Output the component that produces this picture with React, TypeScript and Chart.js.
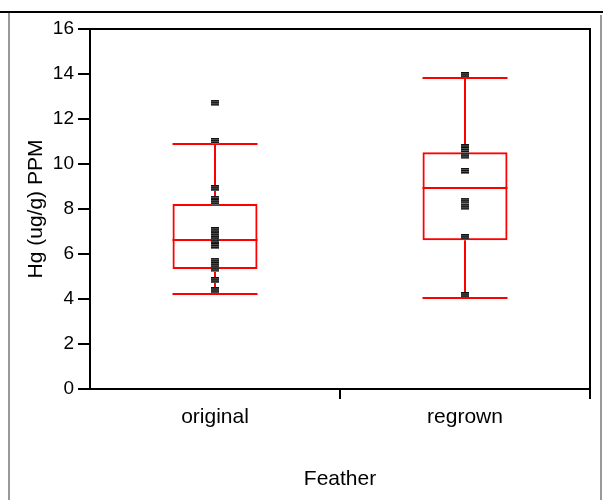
import React, { useEffect, useRef } from 'react';
import { Chart, registerables } from 'chart.js';

Chart.register(...registerables);

const categories = ['original', 'regrown'];
const q1Values = [5.33, 6.61];
const medianValues = [6.62, 8.92];
const q3Values = [8.22, 10.52];
const lowerWhiskers = [4.22, 4.04];
const upperWhiskers = [10.89, 13.8];
const originalPoints = [12.72, 11.02, 8.92, 8.45, 8.3, 7.05, 6.85, 6.65, 6.5, 6.35, 5.7, 5.5, 5.35, 4.83, 4.38];
const regrownPoints = [13.94, 10.74, 10.62, 10.37, 9.69, 8.37, 8.1, 6.74, 4.16];
const yTickValues = [0, 2, 4, 6, 8, 10, 12, 14, 16];

const RED = 'rgb(255,0,0)';
const FONT = "'Liberation Sans', Arial, Helvetica, sans-serif";

function makeMarker(): HTMLCanvasElement {
  const c = document.createElement('canvas');
  c.width = 8;
  c.height = 6;
  const g = c.getContext('2d')!;
  const rows = ['#111', '#555', '#111', '#555', '#111', '#777'];
  rows.forEach((col, i) => {
    g.fillStyle = col;
    g.fillRect(0, i, 8, 1);
  });
  return c;
}

const boxPlugin = {
  id: 'boxWhiskers',
  beforeDatasetsDraw(chart: any) {
    const meta = chart.getDatasetMeta(1);
    const ys = chart.scales.y;
    const ctx = chart.ctx;
    ctx.save();
    ctx.strokeStyle = RED;
    ctx.lineWidth = 2;
    meta.data.forEach((bar: any, i: number) => {
      const { x, width } = bar.getProps(['x', 'width'], true);
      const l = x - width / 2;
      const r = x + width / 2;
      const cx = Math.round(x);
      const yHi = Math.round(ys.getPixelForValue(upperWhiskers[i]));
      const yLo = Math.round(ys.getPixelForValue(lowerWhiskers[i]));
      const yQ3 = ys.getPixelForValue(q3Values[i]);
      const yQ1 = ys.getPixelForValue(q1Values[i]);
      const yMed = Math.round(ys.getPixelForValue(medianValues[i]));
      ctx.beginPath();
      ctx.moveTo(cx, yHi);
      ctx.lineTo(cx, yQ3);
      ctx.moveTo(cx, yQ1);
      ctx.lineTo(cx, yLo);
      ctx.moveTo(l, yHi);
      ctx.lineTo(r, yHi);
      ctx.moveTo(l, yLo);
      ctx.lineTo(r, yLo);
      ctx.moveTo(l, yMed);
      ctx.lineTo(r, yMed);
      ctx.stroke();
    });
    ctx.restore();
  },
};

const framePlugin = {
  id: 'frame',
  beforeDatasetsDraw(chart: any) {
    const { top, right, left } = chart.chartArea;
    const ctx = chart.ctx;
    ctx.save();
    ctx.strokeStyle = '#000';
    ctx.lineWidth = 2;
    ctx.beginPath();
    ctx.moveTo(left, top);
    ctx.lineTo(right, top);
    ctx.lineTo(right, chart.chartArea.bottom);
    ctx.stroke();
    ctx.restore();
  },
};

export default function App() {
  const ref = useRef<HTMLCanvasElement>(null);

  useEffect(() => {
    if (!ref.current) return;
    const marker = makeMarker();
    const pointData = [
      ...originalPoints.map((v) => ({ x: categories[0], y: v })),
      ...regrownPoints.map((v) => ({ x: categories[1], y: v })),
    ];
    const chart = new Chart(ref.current, {
      type: 'bar',
      data: {
        labels: categories,
        datasets: [
          {
            type: 'line',
            label: 'points',
            data: pointData as any,
            showLine: false,
            pointStyle: marker as any,
            pointRadius: 4,
            order: 1,
          } as any,
          {
            type: 'bar',
            label: 'box',
            data: categories.map((_, i) => [q1Values[i], q3Values[i]]) as any,
            backgroundColor: 'transparent',
            borderColor: RED,
            borderWidth: 2,
            borderSkipped: false,
            categoryPercentage: 1,
            barPercentage: 0.34,
            order: 2,
          } as any,
        ],
      },
      options: {
        animation: false,
        responsive: false,
        events: [],
        layout: { padding: { left: 0, top: 29, right: 14, bottom: 0 } },
        plugins: { legend: { display: false }, tooltip: { enabled: false } },
        scales: {
          x: {
            type: 'category',
            offset: true,
            grid: {
              offset: true,
              drawOnChartArea: false,
              drawTicks: true,
              tickLength: 10,
              lineWidth: 2,
              color: (ctx: any) => (ctx.index === 0 ? 'transparent' : '#000'),
            },
            border: { color: '#000', width: 2 },
            ticks: { color: '#000', font: { family: FONT, size: 21 }, padding: 6 },
            title: {
              display: true,
              text: 'Feather',
              color: '#000',
              font: { family: FONT, size: 21 },
              padding: { top: 0, bottom: 8 },
            },
            afterFit: (s: any) => {
              s.height = 111;
            },
          },
          y: {
            min: 0,
            max: 16,
            afterBuildTicks: (s: any) => {
              s.ticks = yTickValues.map((v) => ({ value: v }));
            },
            grid: { drawOnChartArea: false, tickLength: 12, lineWidth: 2, color: '#000' },
            border: { color: '#000', width: 2 },
            ticks: { color: '#000', font: { family: FONT, size: 19 }, padding: 4 },
            title: {
              display: true,
              text: 'Hg (ug/g) PPM',
              color: '#000',
              font: { family: FONT, size: 21 },
              padding: { top: 24, bottom: 0 },
            },
            afterFit: (s: any) => {
              s.width = 90;
            },
          },
        },
      },
      plugins: [framePlugin, boxPlugin],
    });
    return () => chart.destroy();
  }, []);

  return (
    <div style={{ position: 'absolute', left: 0, top: 0, width: 604, height: 500, background: '#fff' }}>
      <canvas ref={ref} width={604} height={500} style={{ position: 'absolute', left: 0, top: 0 }} />
      <div style={{ position: 'absolute', left: 0, top: 11, width: 603, height: 2, background: '#000' }} />
      <div style={{ position: 'absolute', left: 8, top: 13, width: 2, height: 487, background: '#999' }} />
      <div style={{ position: 'absolute', left: 600, top: 15, width: 2, height: 485, background: '#999' }} />
    </div>
  );
}
